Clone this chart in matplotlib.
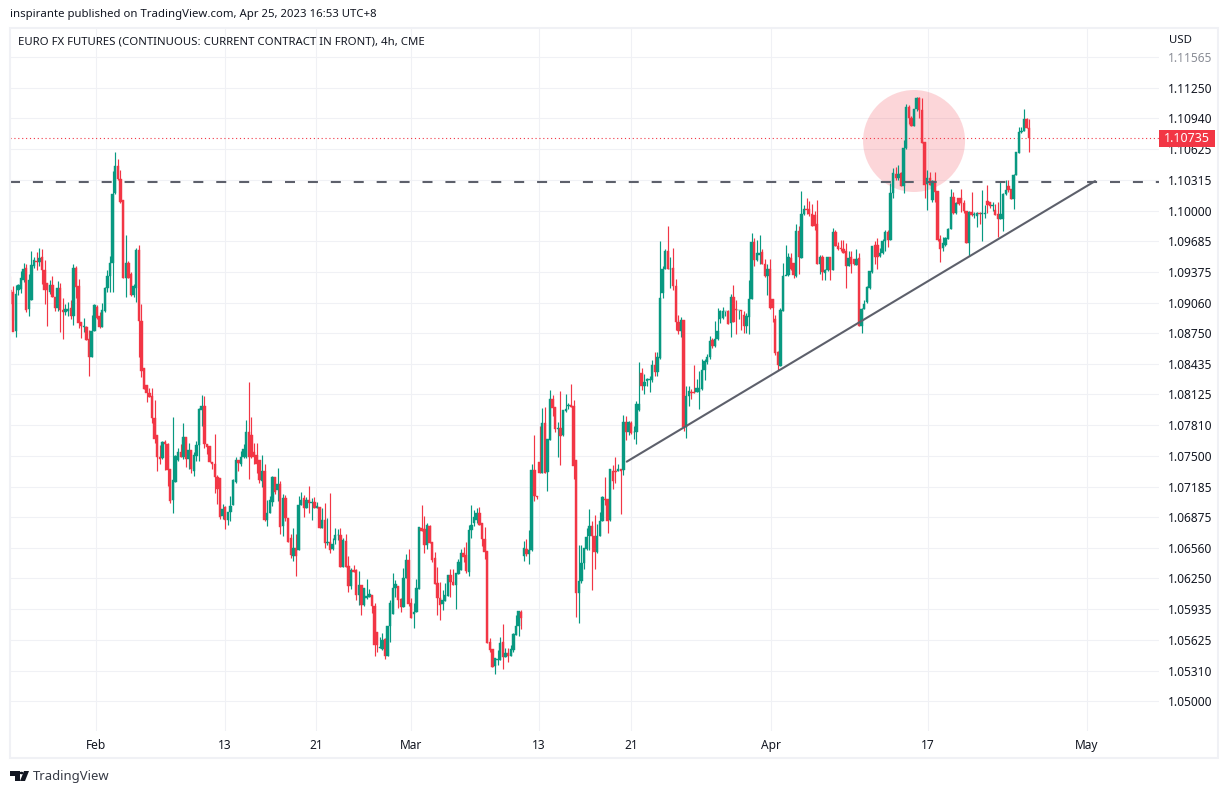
import numpy as np
import matplotlib
matplotlib.use("Agg")
import matplotlib.pyplot as plt
from matplotlib.colors import to_rgba
from matplotlib.patches import Rectangle, Ellipse, Polygon, Circle

plt.rcParams['font.family'] = ['Noto Sans', 'DejaVu Sans']

# All prices are in pips above 1.0500 (1 pip = 0.0001)
BASE = 1.05
opens_jan = [
419,417,377,419,420,429,441,400,409,443,
449,448,453,439,426,417,424,412,401,421,
399,397,398,401,392,441,423,386,381,381,
369,351,377,402,392,381,398,421,433,447,
518,545,532,511,431,446,435,414,421,460,
387,339,322,314,311,289,271,249,248,264,
262,236,205,223,246,254,249,269,247,256,
234,250,261,297,301,262,260,244,242,228,
227,189,198,185,193,200,223,246,242,249,
249,274,271,254,251,246]
highs_jan = [
433,423,424,425,438,447,445,435,459,453,
458,462,461,450,426,429,433,412,428,426,
411,405,407,409,445,443,430,386,390,382,
378,394,405,404,397,406,422,439,454,540,
560,553,541,511,475,449,437,425,462,465,
405,339,322,319,319,307,271,261,265,266,
263,236,290,251,258,262,283,269,263,256,
254,265,299,312,311,262,260,244,272,230,
227,201,199,193,209,226,249,246,255,262,
286,325,290,263,263,246]
lows_jan = [
388,388,371,414,416,427,397,392,409,441,
439,443,425,405,382,415,412,398,398,376,
369,394,392,389,383,411,380,370,376,368,
331,351,377,389,380,381,397,417,417,417,
517,531,508,431,412,431,413,412,407,351,
330,318,305,310,283,263,234,242,247,235,
219,202,192,223,245,249,247,239,236,232,
229,245,245,280,258,252,244,237,212,201,
186,186,175,179,183,200,222,234,240,248,
248,226,248,242,232,222]
closes_jan = [
405,376,415,424,431,440,399,429,444,450,
448,452,439,419,419,424,412,401,421,399,
397,400,400,392,441,422,385,382,382,368,
351,377,404,390,381,399,421,433,447,517,
545,532,509,431,446,431,414,423,460,387,
336,318,314,310,289,267,249,247,264,262,
235,204,225,250,254,249,269,247,256,237,
251,261,298,301,262,259,244,242,228,216,
188,196,185,193,199,225,246,243,249,257,
274,249,249,249,242,225]

opens_feb = [
224,234,185,192,203,228,215,221,178,207,
187,166,148,156,154,200,207,197,205,202,
203,197,198,176,185,161,162,155,164,169,
169,137,163,138,117,134,134,108,118,98,
105,106,108,97,70,54,53,63,46,76,
89,115,117,104,96,125,144,100,89,91,
114,176,175,159,178,162,146,120,105,99,
102,107,128,121,118,129,134,151,149,132,
174,181,185,192,181,165,153,60,53,36,
42,42,60,45,49,46,52,67,76,91,
148,155,150]
highs_feb = [
251,242,205,209,229,228,238,224,211,210,
187,170,176,170,209,213,210,208,219,207,
208,203,198,197,202,187,212,166,176,175,
176,166,170,148,136,139,135,133,118,115,
124,114,108,100,70,65,69,64,76,103,
130,123,117,105,136,150,155,105,100,124,
177,200,189,181,179,162,152,137,121,113,
120,128,135,135,130,145,155,157,162,179,
200,195,197,198,181,177,153,64,53,44,
52,65,78,54,54,57,69,88,92,93,
163,165,174]
lows_feb = [
218,183,178,192,199,211,204,170,168,184,
162,146,143,127,154,200,188,197,192,185,
197,197,176,176,156,159,151,154,160,164,
137,137,137,111,114,132,103,98,88,97,
104,106,90,46,50,54,52,43,46,60,
89,106,95,91,96,125,97,85,74,91,
114,173,151,155,161,142,119,88,83,93,
102,107,106,118,94,129,134,142,130,127,
166,178,181,179,158,145,59,50,35,28,
37,42,33,45,40,46,50,67,66,73,
143,148,140]
closes_feb = [
234,185,192,205,228,213,221,177,207,187,
162,149,156,148,200,205,197,205,202,203,
197,199,176,185,161,162,154,160,169,169,
137,164,137,117,134,132,108,118,98,115,
107,109,97,57,57,55,62,46,76,100,
115,119,103,96,125,144,99,85,91,115,
177,173,159,179,161,144,119,105,98,103,
108,128,121,118,130,142,151,147,133,174,
179,188,192,179,165,152,59,52,35,44,
43,59,45,49,46,53,68,76,92,85,
156,150,154]

opens_mar = [
154,235,209,244,232,283,233,266,308,300,
277,278,271,296,301,302,301,246,110,122,
141,155,168,178,168,152,168,183,206,206,
185,234,234,234,237,235,284,274,283,274,
274,297,334,321,326,327,327,343,335,350,
416,440,459,440,441,423,386,377,388,279,
311,315,315,315,315,318,337,346,351,368,
362,369,389,390,398,398,385,412,400,399,
399,393,382,391,410,468,450,455,458,445,
433,440,410,389,356,342]
highs_mar = [
242,271,209,280,299,300,267,317,312,300,
284,316,297,313,304,323,307,246,159,159,
156,176,196,184,190,180,193,209,228,206,
237,241,249,242,237,292,291,285,285,280,
306,346,339,333,329,331,348,356,356,469,
443,461,484,453,462,430,393,391,388,321,
321,318,343,328,336,349,349,354,372,370,
387,401,399,402,398,399,415,424,409,399,
399,398,396,429,477,472,470,475,461,451,
445,451,410,394,357,401]
lows_mar = [
153,204,206,232,232,232,214,266,291,274,
249,241,270,295,298,300,226,86,80,120,
135,154,154,113,135,151,168,183,200,171,
184,216,222,234,191,230,266,271,272,267,
262,296,317,313,321,315,325,331,331,349,
411,440,440,421,419,378,374,371,275,268,
301,308,314,315,298,317,327,344,349,360,
361,368,385,389,392,384,371,386,374,389,
378,375,375,374,410,443,449,445,445,432,
414,400,386,353,337,341]
closes_mar = [
235,209,208,232,283,232,267,308,299,277,
278,270,297,298,302,300,240,110,122,141,
156,167,178,168,152,168,184,208,205,184,
236,224,233,236,234,284,274,284,273,274,
303,303,321,325,328,328,343,335,351,411,
440,459,440,440,423,386,377,388,279,311,
316,314,314,319,319,337,347,351,367,362,
369,377,398,398,398,384,412,386,399,399,
398,382,392,410,468,450,457,457,445,433,
440,401,401,355,343,399]

opens_apr = [
398,433,434,452,446,433,479,452,496,502,
502,496,495,486,445,453,436,439,453,439,
478,464,462,461,459,443,453,451,444,452,
382,400,407,421,437,465,465,454,457,469,
478,470,518,537,533,538,525,564,606,594,
586,603,615,602,570,527,533,511,530,520,
471,462,465,471,481,514,497,513,513,508,
500,467,499,495,494,497,496,496,510,509,
505,501,496,491,491,517,525,522,512,536,
559,580,581,593,584]
highs_apr = [
446,465,457,457,447,486,484,520,506,513,
510,507,500,511,455,455,440,453,453,482,
480,468,470,470,467,459,459,451,461,457,
401,409,423,438,464,469,472,462,471,480,
480,528,543,544,546,539,572,609,608,596,
604,616,616,615,570,541,539,531,539,520,
475,473,473,482,522,519,509,513,522,511,
500,500,519,498,498,498,521,506,526,509,
509,507,509,530,518,531,531,522,537,560,
585,585,604,594,593]
lows_apr = [
398,434,433,439,431,432,435,452,495,496,
494,484,480,445,435,429,429,438,429,439,
464,460,459,457,421,443,436,444,444,382,
375,400,406,420,436,445,440,453,456,459,
463,470,513,531,531,525,518,563,588,586,
586,601,594,569,513,501,526,509,509,469,
448,459,464,471,481,496,496,506,499,497,
467,454,494,492,483,486,469,492,497,503,
500,495,473,491,479,516,519,512,502,536,
559,579,581,584,560]
closes_apr = [
433,434,453,440,434,479,453,496,502,501,
496,484,484,445,453,437,439,453,439,478,
464,461,461,457,443,452,445,445,451,382,
400,405,422,438,464,453,453,457,469,478,
470,518,538,533,537,525,564,606,594,586,
604,615,602,569,526,533,526,530,519,470,
461,467,472,481,514,497,508,507,508,500,
467,499,495,496,497,496,497,497,506,505,
506,495,491,496,517,521,521,512,536,560,
580,581,593,584,574]

price_ticks = [1.05, 1.0531, 1.05625, 1.05935, 1.0625, 1.0656, 1.06875, 1.07185, 1.075, 1.0781,
               1.08125, 1.08435, 1.0875, 1.0906, 1.09375, 1.09685, 1.10, 1.10315, 1.10625,
               1.1094, 1.1125, 1.11565]
date_slots = [32.6, 81.9, 116.6, 152.9, 201.8, 236.9, 290.4, 350.3, 411.0]
date_labels = ['Feb', '13', '21', 'Mar', '13', '21', 'Apr', '17', 'May']
last_price = 1.10735
resistance = 1.1029
trend_slots = [235.3, 414.1]
trend_prices = [1.07440, 1.10300]

GREEN, RED, INK, LINE, GRID = '#089981', '#f23645', '#131722', '#5d606b', '#f0f1f5'
W, H = 1229, 794

def pips(*parts):
    return BASE + np.concatenate([np.asarray(p, float) for p in parts]) / 1e4

o = pips(opens_jan, opens_feb, opens_mar, opens_apr)
h = pips(highs_jan, highs_feb, highs_mar, highs_apr)
l = pips(lows_jan, lows_feb, lows_mar, lows_apr)
c = pips(closes_jan, closes_feb, closes_mar, closes_apr)
slots = np.arange(len(o))

fig = plt.figure(figsize=(W / 100, H / 100), dpi=100, facecolor='white')
ax = fig.add_axes([10 / W, (H - 731) / H, 1149 / W, 703 / H])
pip_per_px = 656.5 / 644.0
ax.set_ylim(BASE - 30 * pip_per_px / 1e4, BASE + 673 * pip_per_px / 1e4)
slot_w = 2.619
ax.set_xlim(-0.19, 1149 / slot_w - 0.19)
for s in ax.spines.values():
    s.set_visible(False)

ax.set_yticks(price_ticks, [f'{t:.5f}' for t in price_ticks])
ax.set_xticks(date_slots, date_labels)
ax.yaxis.tick_right()
ax.tick_params(axis='y', length=0, pad=6.5, labelsize=8.6, labelcolor=INK)
ax.tick_params(axis='x', length=0, pad=5.5, labelsize=8.6, labelcolor=INK)
ax.get_yticklabels()[-1].set_color('#8a8d96')
ax.grid(True, color=GRID, lw=0.8)
ax.set_axisbelow(True)

# highlight circle
ax.add_patch(Ellipse((345.0, BASE + (701 - 141) * pip_per_px / 1e4), 102 / slot_w,
                     102 * pip_per_px / 1e4, facecolor=RED, alpha=0.2, edgecolor='none', zorder=1.5))

colors = np.array([to_rgba(GREEN if cc >= oo else RED) for oo, cc in zip(o, c)])
colors[0, 3] = 0.5  # the first candle is cut by the left edge and looks faded
ax.vlines(slots, l, h, colors=colors, lw=0.85, zorder=2)
ax.bar(slots, np.abs(c - o), bottom=np.minimum(o, c), width=0.92, color=colors,
       edgecolor=colors, linewidth=0.3, zorder=3)

ax.axhline(resistance, color=LINE, lw=1.5, ls=(0, (4.8, 6.2)), zorder=4)
ax.plot(trend_slots, trend_prices, color=LINE, lw=1.5, zorder=4, solid_capstyle='round')
ax.axhline(last_price, color=RED, lw=0.8, ls=(0, (1, 2.5)), zorder=1.8)

def rect_px(x0, y0, x1, y1, **kw):
    r = Rectangle((x0 / W, 1 - y1 / H), (x1 - x0) / W, (y1 - y0) / H,
                  transform=fig.transFigure, **kw)
    fig.add_artist(r)
    return r

rect_px(9.5, 27.5, 1218, 758, facecolor='none', edgecolor=GRID, lw=1.5, zorder=5)
rect_px(1159, 129.5, 1215, 147, facecolor=RED, edgecolor='none', zorder=6)
fig.text(1187 / W, 1 - 138.3 / H, f'{last_price:.5f}', color='white', fontsize=9,
         fontweight='bold', ha='center', va='center', zorder=7)
fig.text(1169 / W, 1 - 40.5 / H, 'USD', color=INK, fontsize=8.2, va='center', zorder=7)

fig.text(10 / W, 1 - 14.5 / H, 'inspirante published on TradingView.com, Apr 25, 2023 16:53 UTC+8',
         color=INK, fontsize=8.2, va='center')
fig.text(18 / W, 1 - 42 / H, 'EURO FX FUTURES (CONTINUOUS: CURRENT CONTRACT IN FRONT), 4h, CME',
         color=INK, fontsize=8.2, va='center', zorder=7)

# TradingView wordmark
fig.text(33 / W, 1 - 776.5 / H, 'TradingView', color='#363a45', fontsize=9.4, va='center')
def poly_px(pts, **kw):
    fig.add_artist(Polygon([(x / W, 1 - y / H) for x, y in pts], closed=True,
                           transform=fig.transFigure, facecolor='#131722', edgecolor='none', **kw))
poly_px([(10, 771), (19.5, 771), (19.5, 781), (15, 781), (15, 775.5), (10, 775.5)])
poly_px([(24, 771), (29, 771), (25, 781), (20, 781)])
fig.add_artist(Circle((21.5 / W, 1 - 773 / H), 0.0016, transform=fig.transFigure, facecolor='#131722'))

fig.savefig('out.png', dpi=100, facecolor='white')
